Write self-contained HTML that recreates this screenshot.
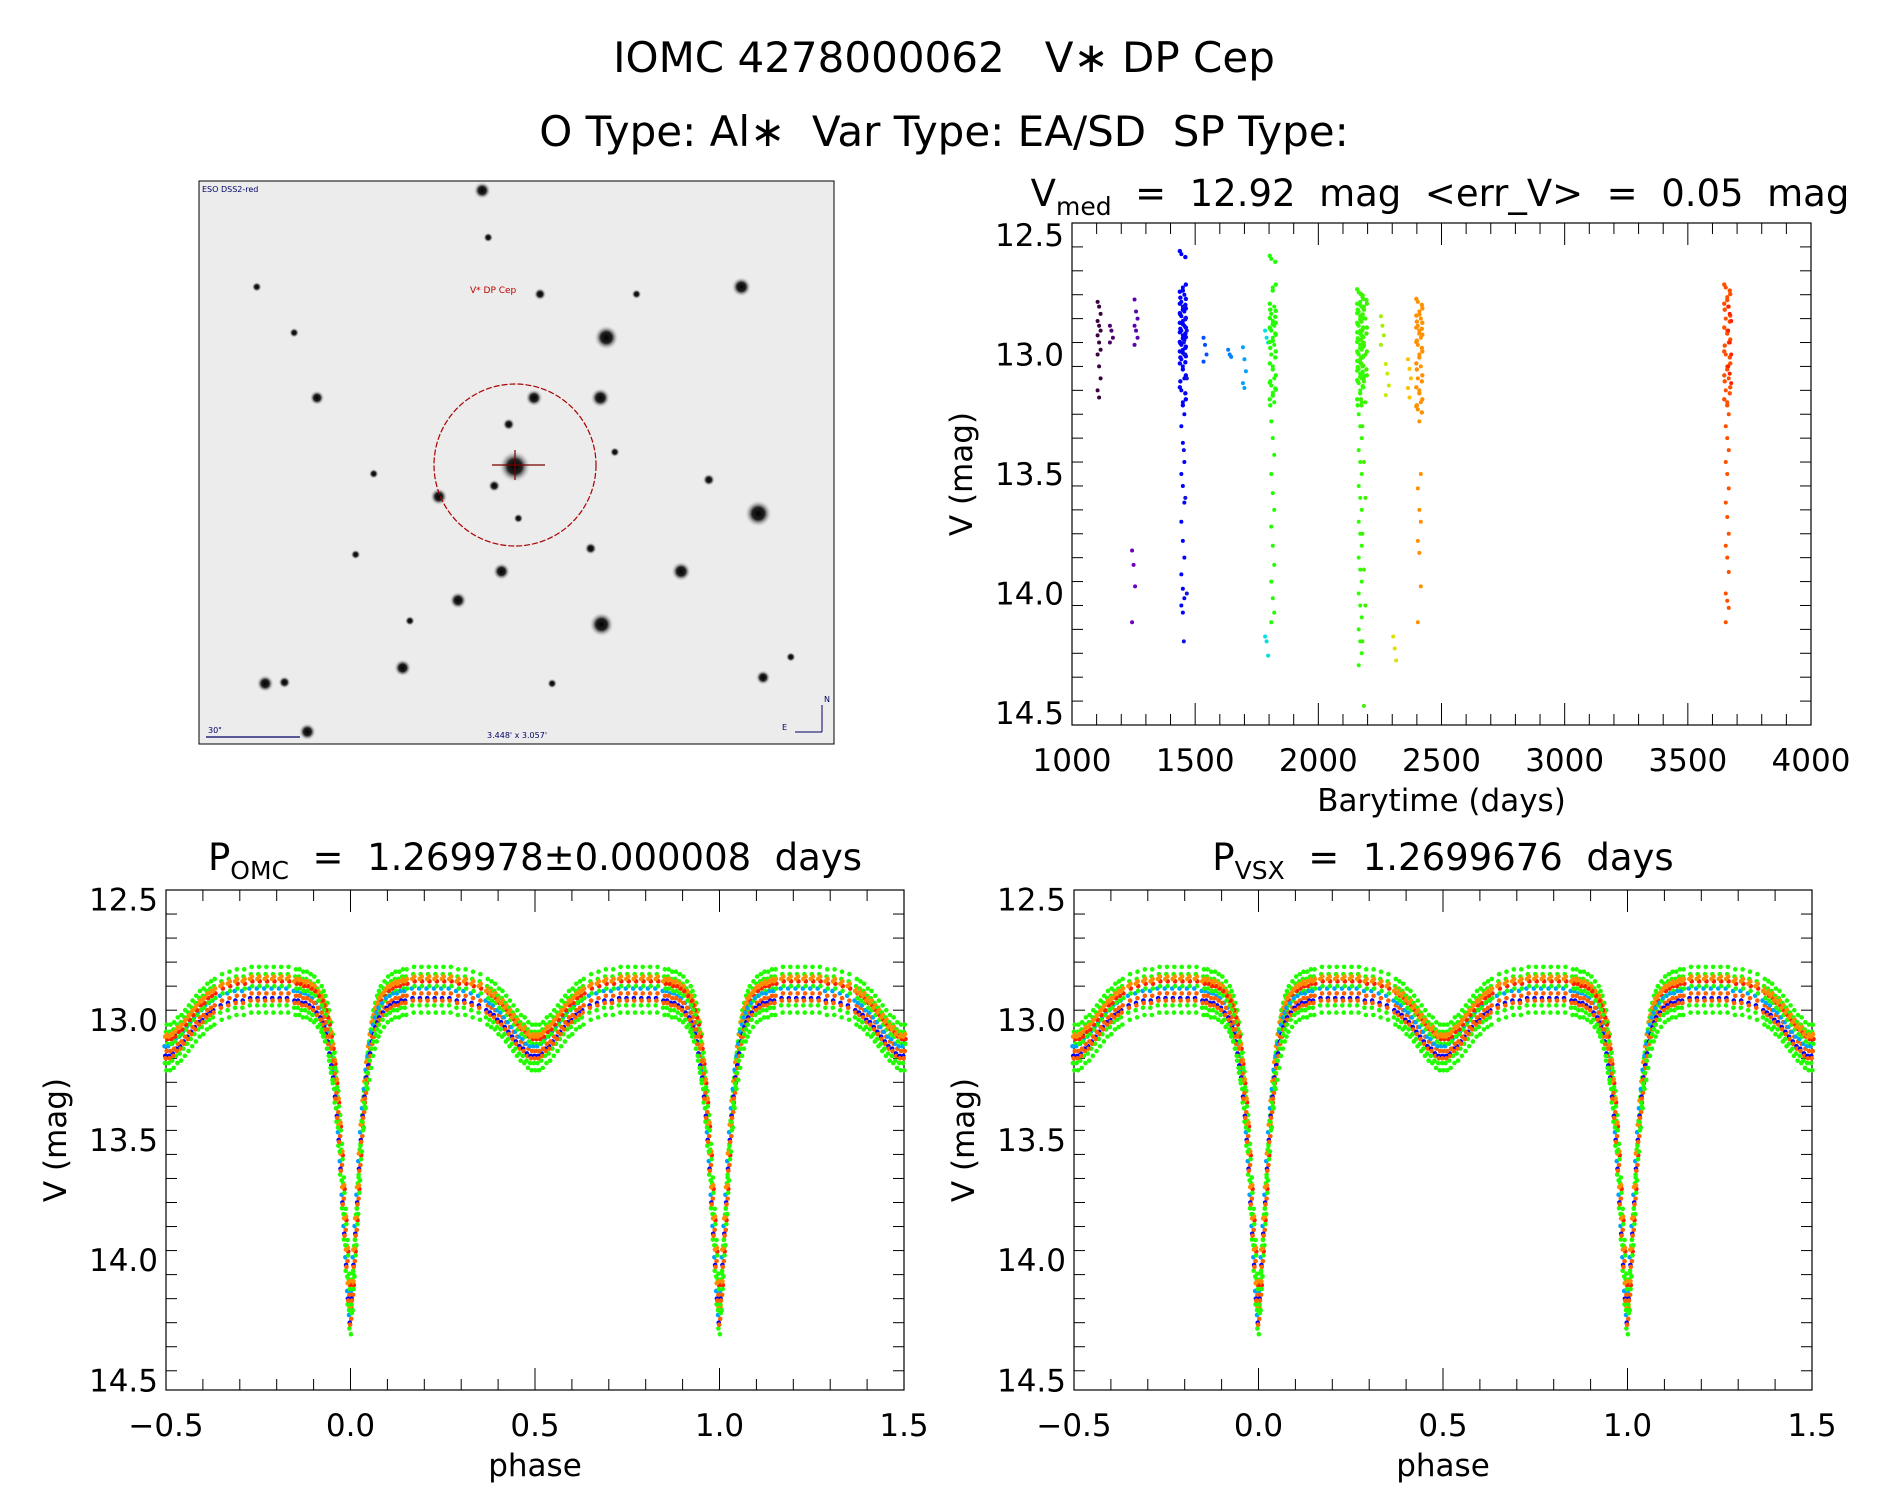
<!DOCTYPE html>
<html><head><meta charset="utf-8">
<style>
body{margin:0;background:#fff;}
svg text{font-family:"DejaVu Sans","Liberation Sans",sans-serif;fill:#000;white-space:pre;}
</style></head>
<body>
<svg id="fig" width="1889" height="1494" viewBox="0 0 1889 1494" xmlns="http://www.w3.org/2000/svg" xml:space="preserve">
<rect width="1889" height="1494" fill="#fff"/>
<text x="944" y="72" font-size="42" text-anchor="middle">IOMC 4278000062   V∗ DP Cep</text>
<text x="944" y="146" font-size="42" text-anchor="middle">O Type: Al∗  Var Type: EA/SD  SP Type:</text>
<g id="img"></g>
<g id="lc"></g>
<g id="p1"></g>
<g id="p2"></g>
</svg>
<script>
const NS="http://www.w3.org/2000/svg";
// ---- data ----
const magTicks=[12.5,13.0,13.5,14.0,14.5];
const timeTicks=[1000,1500,2000,2500,3000,3500,4000];
const phaseTicks=[-0.5,0.0,0.5,1.0,1.5];
const lcTimes=[1110,1160,1260,1250,1450,1460,1540,1640,1700,1790,1815,2170,2185,2260,2280,2310,2370,2410,3660,3670];
const lcColors=["#3a0040","#4a0070","#5a00b0","#6a00c0","#0000ff","#1010e0","#0050ff","#0080ff","#00a0ff","#00e0e0","#20ff00","#30ff00","#40f000","#a0f000","#c0f000","#e0e000","#ffc000","#ff9000","#ff5000","#ff2000"];
const lcMags=[
[12.78,12.8,12.83,12.86,12.88,12.9,12.92,12.95,12.98,13.0,13.05,13.1,13.15,13.18],
[12.88,12.9,12.93,12.95],
[12.77,12.82,12.85,12.88,12.9,12.93,12.96],
[13.82,13.88,13.97,14.12],
[12.58,12.72,12.75,12.78,12.8,12.82,12.84,12.86,12.88,12.9,12.92,12.94,12.96,12.98,13.0,13.02,13.05,13.1,13.15,13.2,13.25,13.3,13.37,13.45,13.5,13.55,13.62,13.7,13.78,13.85,13.92,13.98,14.02,14.05,14.08],
[12.8,12.85,12.9,12.95,13.0,13.1,13.4,13.6,14.0,14.2],
[12.93,12.96,13.0,13.03],
[12.98,13.0,13.01],
[12.97,13.02,13.07,13.12,13.14],
[12.9,12.93,12.95,14.18,14.2,14.26],
[12.6,12.72,12.8,12.83,12.86,12.88,12.9,12.93,12.96,13.0,13.05,13.1,13.13,13.16,13.2,13.28,13.35,13.42,13.5,13.58,13.65,13.72,13.8,13.88,13.95,14.02,14.08,14.12],
[12.74,12.78,12.8,12.82,12.84,12.86,12.88,12.9,12.92,12.94,12.96,12.98,13.0,13.02,13.04,13.06,13.08,13.1,13.12,13.15,13.2,13.25,13.3,13.35,13.4,13.45,13.5,13.55,13.6,13.65,13.7,13.75,13.8,13.85,13.9,13.95,14.0,14.05,14.1,14.15,14.2,14.25,14.3],
[12.76,12.8,12.85,12.9,12.95,13.0,13.05,13.1,13.2,13.3,13.45,13.6,13.75,13.9,14.05,14.2,14.47],
[12.84,12.88,12.92,12.96],
[13.04,13.08,13.13,13.17],
[14.18,14.23,14.28],
[13.02,13.06,13.1,13.14,13.18],
[12.78,12.82,12.85,12.88,12.9,12.93,12.96,13.0,13.05,13.1,13.15,13.2,13.23,13.28,13.5,13.56,13.65,13.7,13.78,13.83,13.97,14.12],
[12.72,12.76,12.8,12.85,12.9,12.95,13.0,13.05,13.1,13.15,13.2,13.25,13.3,13.35,13.4,13.45,13.5,13.56,13.62,13.68,13.75,13.8,13.85,13.91,14.0,14.03,14.06,14.12],
[12.8,12.83,12.86,12.9,12.95,13.0,13.05,13.08,13.12]
];
// mean phased light curve (phase 0..0.5, mirrored)
const tplPhase=[0,0.005,0.01,0.015,0.02,0.025,0.03,0.035,0.04,0.045,0.05,0.055,0.06,0.065,0.07,0.075,0.08,0.09,0.1,0.11,0.12,0.13,0.14,0.15,0.17,0.19,0.21,0.23,0.25,0.27,0.29,0.31,0.33,0.35,0.37,0.38,0.39,0.4,0.41,0.42,0.43,0.44,0.45,0.46,0.47,0.48,0.49,0.5];
const tplMag=[14.22,14.12,13.98,13.85,13.72,13.58,13.46,13.36,13.28,13.2,13.14,13.09,13.04,13.01,12.98,12.96,12.94,12.92,12.9,12.89,12.88,12.88,12.87,12.87,12.86,12.86,12.86,12.86,12.86,12.86,12.87,12.87,12.88,12.89,12.91,12.92,12.93,12.95,12.96,12.98,13.0,13.02,13.04,13.06,13.07,13.09,13.1,13.1];
const scatterColors=["#20ff00","#ff6000","#20ff00","#ff2000","#0000ff","#ff8c00","#20ff00","#00a0ff","#20ff00","#ff6000","#20ff00","#ff8c00"];
const scatterOffsets=[[0,-0.05],[0.002,0.03],[-0.003,0.08],[0.004,-0.02],[-0.002,0.05],[0.003,-0.04],[0.001,0.11],[-0.004,0.01],[0.002,-0.08],[-0.001,0.06],[0.0035,0.0],[-0.0025,-0.03]];

function el(tag,attrs,parent){const e=document.createElementNS(NS,tag);for(const k in attrs)e.setAttribute(k,attrs[k]);parent.appendChild(e);return e;}

// ---- sky image ----
(function(){
 const g=document.getElementById('img');
 const defs=el('defs',{},g);
 const rg=el('radialGradient',{id:'star'},defs);
 el('stop',{offset:'0%','stop-color':'#000'},rg);
 el('stop',{offset:'45%','stop-color':'#222'},rg);
 el('stop',{offset:'100%','stop-color':'#eee','stop-opacity':0},rg);
 const bg=el('rect',{x:199,y:181,width:635,height:563,fill:'#ececec',stroke:'#000','stroke-width':1},g);
 
 const stars=[[400,158,7],[615,238,8],[503,280,10],[263,330,6],[443,330,7],[498,330,8],[427,387,13],[629,426,11],[364,412,7],[416,474,7],[565,474,8],[380,498,7],[499,518,10],[334,554,7],[220,567,7],[633,562,6],[255,607,7],[588,398,5],[490,455,5],[422,352,5],[410,403,5],[213,238,4],[448,244,5],[528,244,4],[405,197,4],[430,430,4],[656,545,4],[458,567,4],[244,276,4],[310,393,4],[295,460,4],[340,515,4],[510,375,4],[236,566,5]];
 for(const s of stars){const c=el('circle',{cx:s[0]*1.2055,cy:s[1]*1.2055,r:s[2]*1.25,fill:'url(#star)'},g);
  }
 const ring=el('circle',{cx:515,cy:465,r:81,fill:'none',stroke:'#a00','stroke-width':1.2,'stroke-dasharray':'6 2'},g);
 
 el('line',{x1:492,y1:465,x2:545,y2:465,stroke:'#700','stroke-width':1.2},g);
 el('line',{x1:515,y1:450,x2:515,y2:480,stroke:'#700','stroke-width':1.2},g);
 const t=el('text',{x:470,y:293,'font-size':9,fill:'#b00'},g);t.textContent='V* DP Cep';t.style.fill='#b00';
 
 const t2=el('text',{x:202,y:192,'font-size':8},g);t2.textContent='ESO DSS2-red';t2.style.fill='#006';
 const t3=el('text',{x:208,y:733,'font-size':8},g);t3.textContent='30"';t3.style.fill='#006';
 el('line',{x1:206,y1:737,x2:300,y2:737,stroke:'#006','stroke-width':1.2},g);
 const t4=el('text',{x:487,y:738,'font-size':8},g);t4.textContent="3.448' x 3.057'";t4.style.fill='#006';
 const t5=el('text',{x:782,y:730,'font-size':8},g);t5.textContent='E';t5.style.fill='#006';
 el('line',{x1:795,y1:732,x2:822,y2:732,stroke:'#006'},g);el('line',{x1:822,y1:732,x2:822,y2:705,stroke:'#006'},g);
 const t6=el('text',{x:824,y:702,'font-size':8},g);t6.textContent='N';t6.style.fill='#006';
})();

// ---- axes helper ----
function axes(g,L,R,T,B,xmin,xmax,xt,xminor,ymin,ymax,yt,yminor,xfmt,xlabel,ylabel){
 const X=v=>L+(v-xmin)/(xmax-xmin)*(R-L);
 const Y=v=>T+(v-ymin)/(ymax-ymin)*(B-T);
 const fr=el('rect',{x:L,y:T,width:R-L,height:B-T,fill:'none',stroke:'#000','stroke-width':1.2},g);
 
 for(let v=xmin;v<=xmax+1e-9;v+=xminor){const x=X(v);const maj=xt.some(t=>Math.abs(t-v)<1e-6);const l=maj?22:11;
  el('line',{x1:x,y1:B,x2:x,y2:B-l,stroke:'#000','stroke-width':1},g);el('line',{x1:x,y1:T,x2:x,y2:T+l,stroke:'#000','stroke-width':1},g);}
 for(let v=ymin;v<=ymax+1e-9;v+=yminor){const y=Y(v);const maj=yt.some(t=>Math.abs(t-v)<1e-6);const l=maj?22:11;
  el('line',{x1:L,y1:y,x2:L+l,y2:y,stroke:'#000','stroke-width':1},g);el('line',{x1:R,y1:y,x2:R-l,y2:y,stroke:'#000','stroke-width':1},g);}
 for(const t of xt){const tx=el('text',{x:X(t),y:B+46,'font-size':31,'text-anchor':'middle'},g);tx.textContent=xfmt(t);
  }
 for(const t of yt){const tx=el('text',{x:L-8,y:Y(t)+11,'font-size':31,'text-anchor':'end'},g);tx.textContent=t.toFixed(1);
  }
 const xl=el('text',{x:(L+R)/2,y:B+86,'font-size':31,'text-anchor':'middle'},g);xl.textContent=xlabel;
 
 const yl=el('text',{x:0,y:0,'font-size':31,'text-anchor':'middle',transform:`translate(${L-100},${(T+B)/2}) rotate(-90)`},g);yl.textContent=ylabel;
 
 return [X,Y];
}
function title(g,x,y,main,sub,rest){
 const t=el('text',{x:x,y:y,'font-size':37,'text-anchor':'middle'},g);
 
 const a=el('tspan',{},t);a.textContent=main;
 const b=el('tspan',{'font-size':25,dy:9},t);b.textContent=sub;
 const c=el('tspan',{dy:-9},t);c.textContent=rest;
}

// ---- light curve ----
(function(){
 const g=document.getElementById('lc');
 title(g,1440,206,'V','med','  =  12.92  mag  <err_V>  =  0.05  mag');
 const [X,Y]=axes(g,1072,1811,223,725,1000,4000,timeTicks,100,12.45,14.55,magTicks,0.1,v=>String(v),'Barytime (days)','V (mag)');
 lcTimes.forEach((t,i)=>{const dense=lcMags[i].length>15;lcMags[i].forEach((m,k)=>{
  const c=el('circle',{cx:X(t)+((k%3)-1)*1.5,cy:Y(m),r:2,fill:lcColors[i]},g);
  
  if(dense&&m<13.25){
   const c2=el('circle',{cx:X(t)+((k%3)-1)*-2.5,cy:Y(m)+3,r:2.2,fill:lcColors[i]},g);
   
   const c3=el('circle',{cx:X(t)+((k%2)?3:-3),cy:Y(m)-3,r:2.2,fill:lcColors[i]},g);
   
  }});});
})();

// ---- phase plots ----
function phasePlot(id,cx,tmain,tsub,trest,L){
 const g=document.getElementById(id);
 title(g,cx,870,tmain,tsub,trest);
 const [X,Y]=axes(g,L,904+(L-166),890,1390,-0.5,1.5,phaseTicks,0.1,12.46,14.54,magTicks,0.1,v=>v.toFixed(1).replace('-','−'),'phase','V (mag)');
 const pts=g.appendChild(document.createElementNS(NS,'g'));
 for(let cyc=-1;cyc<=1;cyc++){
  tplPhase.forEach((p,i)=>{
   for(const sgn of [1,-1]){
    if(sgn===-1&&(p===0||p===0.5))continue;
    const ph=cyc+sgn*p;
    if(ph<-0.5||ph>1.5)continue;
    scatterOffsets.forEach((o,j)=>{
     const c=el('circle',{cx:X(ph+o[0]),cy:Y(tplMag[i]+o[1]*(p<0.05?0.8:1)),r:2.3,fill:scatterColors[j]},pts);
     
    });
   }
  });
 }
}
phasePlot('p1',535,'P','OMC','  =  1.269978±0.000008  days',166);
phasePlot('p2',1443,'P','VSX','  =  1.2699676  days',1074);
</script>
</body></html>
